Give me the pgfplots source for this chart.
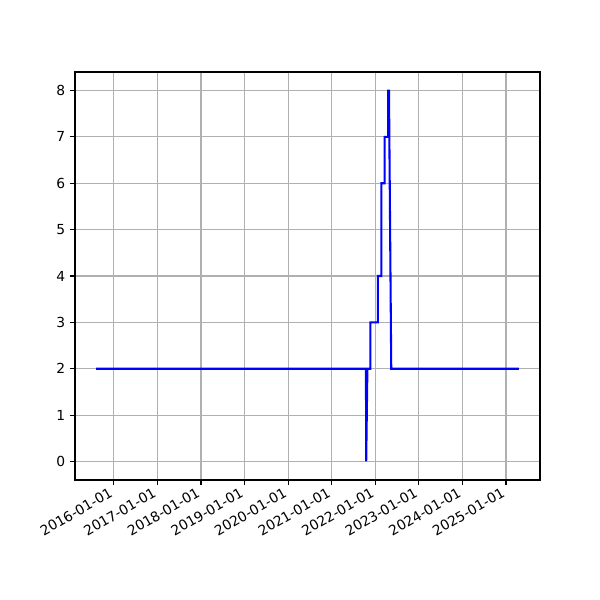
\documentclass[border=0pt]{standalone}
\usepackage{pgfplots}
\pgfplotsset{compat=1.18}
\usepackage{fontspec}
\setmainfont{DejaVu Sans}
\begin{document}
\begin{tikzpicture}
% x = days since 2016-01-01
\begin{axis}[
    scale only axis, width=4.65in, height=4.08in,
    xmin=-325, xmax=3573, ymin=-0.4, ymax=8.4,
    xtick={0,366,731,1096,1461,1827,2192,2557,2922,3288},
    xticklabels={2016-01-01,2017-01-01,2018-01-01,2019-01-01,2020-01-01,2021-01-01,2022-01-01,2023-01-01,2024-01-01,2025-01-01},
    ytick={0,1,2,3,4,5,6,7,8},
    xticklabel style={xshift=-3.5pt, rotate=30, anchor=north east, font=\fontsize{10}{12}\selectfont, inner sep=1pt},
    yticklabel style={font=\fontsize{10}{12}\selectfont},
    /pgf/number format/assume math mode=true,
    grid=major, major grid style={color={rgb,255:red,176;green,176;blue,176}, line width=0.8pt},
    tick align=outside, major tick length=3.5pt,
    tick style={black, line width=0.8pt},
    axis line style={line width=0.8pt},
    xtick pos=bottom, ytick pos=left,
]
\addplot[blue, line width=1.5pt, mark=none] coordinates {
    (-148,2) (2114,2) (2116,0) (2126,2) (2151,2) (2151,3) (2214,3) (2214,4)
    (2243,4) (2243,6) (2270,6) (2270,7) (2301,7) (2301,8) (2307,8) (2326,2) (3396,2)
};
\end{axis}
\path[use as bounding box] (-0.75in,-1.2in) rectangle (5.25in,4.8in);
\end{tikzpicture}
\end{document}
